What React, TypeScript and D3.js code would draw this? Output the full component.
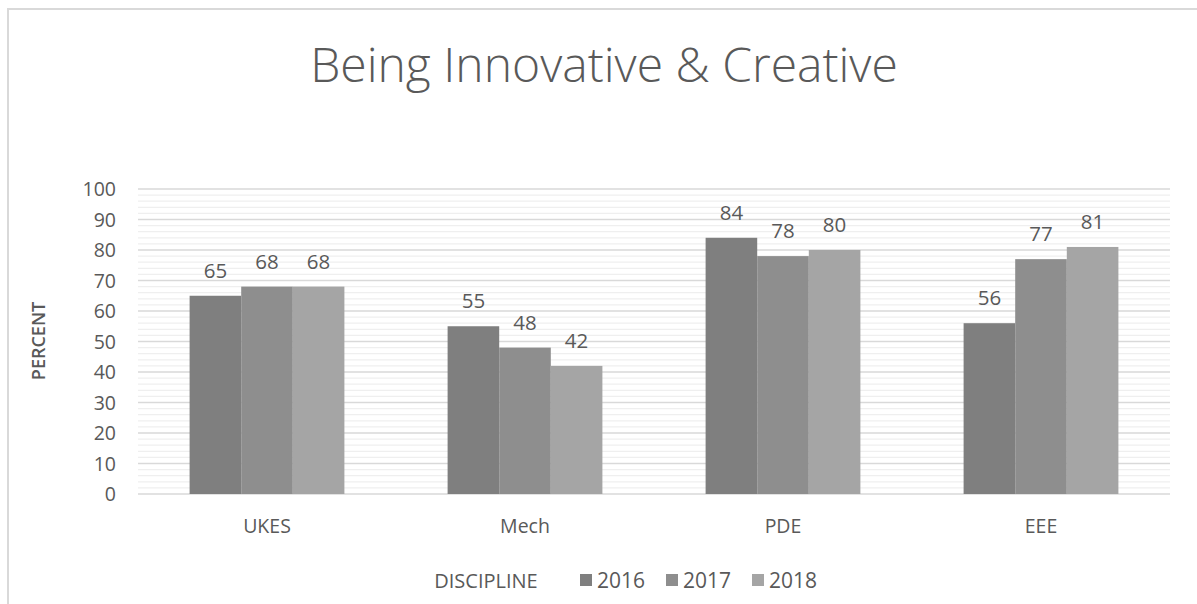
import React from "react";
import * as d3 from "d3";

const categories = ["UKES", "Mech", "PDE", "EEE"];
const seriesNames = ["2016", "2017", "2018"];
const values2016 = [65, 55, 84, 56];
const values2017 = [68, 48, 78, 77];
const values2018 = [68, 42, 80, 81];
const yTicks = [0, 10, 20, 30, 40, 50, 60, 70, 80, 90, 100];
const seriesColors = ["#7f7f7f", "#8e8e8e", "#a5a5a5"];

const W = 1197;
const H = 604;
const plotLeft = 138;
const plotRight = 1170;
const plotTop = 189;
const plotBottom = 494;
const FONT = "'Open Sans', Lato, sans-serif";
const TXT = "#595959";

export default function App() {
  const series = [values2016, values2017, values2018];
  const x = d3.scaleBand<string>().domain(categories).range([plotLeft, plotRight]).paddingInner(0.4).paddingOuter(0.2);
  const xs = d3.scaleBand<string>().domain(seriesNames).range([0, x.bandwidth()]);
  const y = d3.scaleLinear().domain([0, 100]).range([plotBottom, plotTop]);
  const minor = d3.range(0, 101, 2).filter((v) => v % 10 !== 0);

  return (
    <svg width={W} height={H} style={{ position: "absolute", left: 0, top: 0, display: "block" }} fontFamily={FONT}>
      <rect x={0} y={0} width={W} height={H} fill="#fff" />
      <rect x={8} y={9} width={W + 10} height={H + 10} fill="none" stroke="#d9d9d9" strokeWidth={2} />
      <text x={604} y={82} textAnchor="middle" fontSize={48} fontWeight={300} fill={TXT}>
        Being Innovative &amp; Creative
      </text>
      {minor.map((v) => (
        <line key={"m" + v} x1={plotLeft} x2={plotRight} y1={y(v)} y2={y(v)} stroke="#efefef" strokeWidth={1.2} />
      ))}
      {yTicks.map((v) => (
        <line key={"g" + v} x1={plotLeft} x2={plotRight} y1={y(v)} y2={y(v)} stroke="#d9d9d9" strokeWidth={1.5} />
      ))}
      {yTicks.map((v) => (
        <text key={"t" + v} x={116} y={y(v) + 7} textAnchor="end" fontSize={19.5} fill={TXT}>
          {v}
        </text>
      ))}
      {categories.map((c, ci) =>
        seriesNames.map((s, si) => {
          const v = series[si][ci];
          const bx = (x(c) as number) + (xs(s) as number);
          return (
            <g key={c + s}>
              <rect x={bx} y={y(v)} width={xs.bandwidth()} height={y(0) - y(v)} fill={seriesColors[si]} />
              <text x={bx + xs.bandwidth() / 2} y={y(v) - 18} textAnchor="middle" fontSize={20.5} fill={TXT}>
                {v}
              </text>
            </g>
          );
        })
      )}
      {categories.map((c) => (
        <text key={"c" + c} x={(x(c) as number) + x.bandwidth() / 2} y={533} textAnchor="middle" fontSize={19.5} fill={TXT}>
          {c}
        </text>
      ))}
      <text transform={`translate(45,${341}) rotate(-90)`} textAnchor="middle" fontSize={18} fontWeight={600} fill={TXT}>
        PERCENT
      </text>
      <text x={486} y={588} textAnchor="middle" fontSize={20} fill={TXT}>
        DISCIPLINE
      </text>
      {seriesNames.map((s, i) => {
        const lx = 580 + i * 86;
        return (
          <g key={"l" + s}>
            <rect x={lx} y={574} width={12} height={12} fill={seriesColors[i]} />
            <text x={lx + 17} y={588} fontSize={21} fill={TXT}>
              {s}
            </text>
          </g>
        );
      })}
    </svg>
  );
}
